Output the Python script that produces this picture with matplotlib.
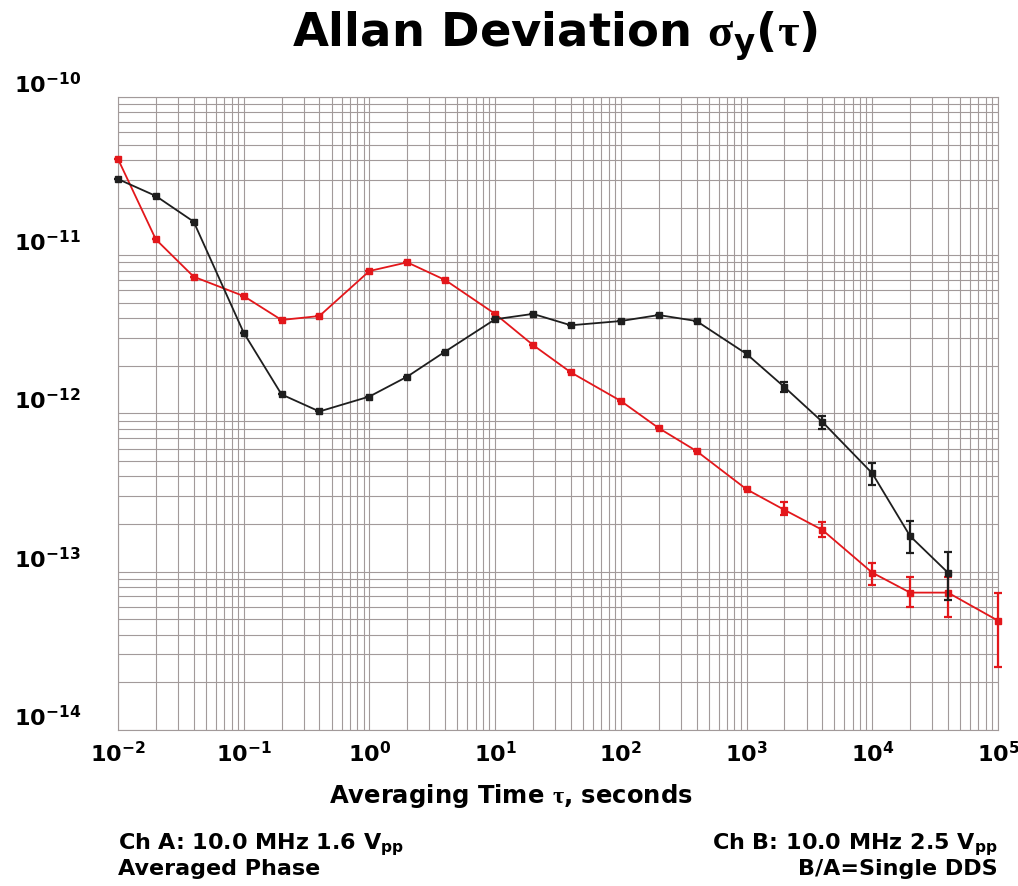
import matplotlib.pyplot as plt
import numpy as np

# Allan deviation data
tau = [0.01, 0.02, 0.04, 0.1, 0.2, 0.4, 1, 2, 4, 10, 20, 40,
       100, 200, 400, 1000, 2000, 4000, 1e4, 2e4, 4e4, 1e5]

# black trace (ends at 4e4)
adev_black = [3.03e-11, 2.37e-11, 1.63e-11, 3.24e-12, 1.32e-12, 1.03e-12,
              1.28e-12, 1.71e-12, 2.46e-12, 3.94e-12, 4.26e-12, 3.61e-12,
              3.84e-12, 4.19e-12, 3.84e-12, 2.38e-12, 1.47e-12, 8.87e-13,
              4.19e-13, 1.68e-13, 9.87e-14]
black_lo = [None] * 15 + [2.28e-12, 1.37e-12, 7.98e-13, 3.53e-13, 1.31e-13, 6.63e-14]
black_hi = [None] * 15 + [2.49e-12, 1.58e-12, 9.64e-13, 4.87e-13, 2.10e-13, 1.34e-13]

# red trace
adev_red = [4.06e-11, 1.26e-11, 7.32e-12, 5.52e-12, 3.90e-12, 4.13e-12,
            7.95e-12, 9.02e-12, 6.98e-12, 4.26e-12, 2.71e-12, 1.82e-12,
            1.20e-12, 8.09e-13, 5.79e-13, 3.32e-13, 2.46e-13, 1.84e-13,
            9.87e-14, 7.38e-14, 7.38e-14, 4.91e-14]
red_lo = [None] * 16 + [2.29e-13, 1.66e-13, 8.24e-14, 5.96e-14, 5.15e-14, 2.51e-14]
red_hi = [None] * 16 + [2.77e-13, 2.07e-13, 1.14e-13, 9.31e-14, 9.31e-14, 7.38e-14]

x_decades = [-2, -1, 0, 1, 2, 3, 4, 5]
y_decades = [-14, -13, -12, -11, -10]

plt.rcParams['mathtext.fontset'] = 'custom'
plt.rcParams['mathtext.rm'] = 'Liberation Serif'
plt.rcParams['mathtext.bf'] = 'DejaVu Sans:bold'
plt.rcParams['mathtext.it'] = 'DejaVu Sans:bold'
plt.rcParams['font.family'] = ['DejaVu Sans']
plt.rcParams['font.weight'] = 'bold'


def errs(vals, lo, hi):
    low = [v - l if l is not None else 0 for v, l in zip(vals, lo)]
    high = [h - v if h is not None else 0 for v, h in zip(vals, hi)]
    return [low, high]


fig = plt.figure(figsize=(10.18, 8.86), dpi=100)
ax = fig.add_axes([0.1159, 0.1761, 0.8644, 0.7144])

grid_col = '#a29a9a'
ax.set_xscale('log')
ax.set_yscale('log')
ax.set_xlim(1e-2, 1e5)
ax.set_ylim(1e-14, 1e-10)

eb_red = ax.errorbar(tau, adev_red, yerr=errs(adev_red, red_lo, red_hi),
                     color='#e3171b', lw=1.3, marker='s', ms=4.8, capsize=3,
                     elinewidth=1.6, capthick=1.6, zorder=3)
n = len(adev_black)
eb_black = ax.errorbar(tau[:n], adev_black, yerr=errs(adev_black, black_lo, black_hi),
                       color='#1e1e1e', lw=1.3, marker='s', ms=4.8, capsize=3,
                       elinewidth=1.6, capthick=1.6, zorder=4)
for eb in (eb_red, eb_black):
    for art in eb.get_children():
        art.set_clip_on(False)

ax.grid(True, which='both', color=grid_col, lw=0.8)
ax.set_axisbelow(True)
for s in ax.spines.values():
    s.set_color(grid_col)
    s.set_linewidth(0.8)

ax.set_xticks([10.0 ** d for d in x_decades])
ax.set_xticklabels([r'$\mathbf{10^{%d}}$' % d for d in x_decades], fontsize=16)
ax.set_yticks([10.0 ** d for d in y_decades])
ax.set_yticklabels([r'$\mathbf{10^{%d}}$' % d for d in y_decades], fontsize=16)
ax.tick_params(axis='both', which='both', length=0)
ax.tick_params(axis='x', pad=8)
ax.tick_params(axis='y', pad=75)
for lab in ax.get_yticklabels():
    lab.set_horizontalalignment('left')
    lab.set_verticalalignment('bottom')

fig.text(0.502, 0.0937, r'Averaging Time $\mathrm{\tau}$, seconds', ha='center',
         va='baseline', fontsize=17.5, fontweight='bold')

fig.text(0.545, 0.947, r'Allan Deviation $\mathrm{\sigma}_{\mathbf{y}}\mathbf{(}\mathrm{\tau}\mathbf{)}$',
         ha='center', va='baseline', fontsize=33.5, fontweight='bold')

fig.text(0.1159, 0.0418, r'Ch A: 10.0 MHz 1.6 $\mathbf{V_{pp}}$', ha='left',
         va='baseline', fontsize=16, fontweight='bold')
fig.text(0.1159, 0.0124, 'Averaged Phase', ha='left', va='baseline',
         fontsize=16, fontweight='bold')
fig.text(0.9804, 0.0418, r'Ch B: 10.0 MHz 2.5 $\mathbf{V_{pp}}$', ha='right',
         va='baseline', fontsize=16, fontweight='bold')
fig.text(0.9804, 0.0124, 'B/A=Single DDS', ha='right', va='baseline',
         fontsize=16, fontweight='bold')

plt.savefig('out.png', dpi=100)
plt.close()
